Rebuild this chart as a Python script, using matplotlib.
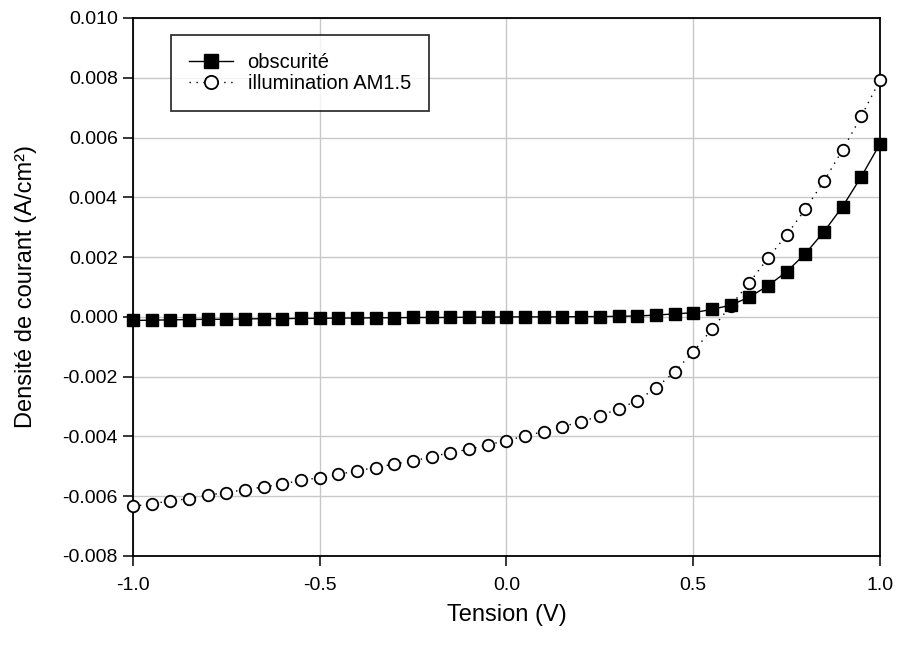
import matplotlib
matplotlib.use("Agg")
import matplotlib.pyplot as plt
import numpy as np

plt.rcParams['font.family'] = ['Liberation Sans', 'DejaVu Sans']

voltage = [-1.0, -0.95, -0.9, -0.85, -0.8, -0.75, -0.7, -0.65, -0.6, -0.55,
           -0.5, -0.45, -0.4, -0.35, -0.3, -0.25, -0.2, -0.15, -0.1, -0.05,
           0.0, 0.05, 0.1, 0.15, 0.2, 0.25, 0.3, 0.35, 0.4, 0.45,
           0.5, 0.55, 0.6, 0.65, 0.7, 0.75, 0.8, 0.85, 0.9, 0.95, 1.0]

dark = [-0.00012, -0.00011, -0.00010, -0.00009, -0.00008, -0.00008, -0.00007, -0.00006, -0.00006, -0.00005,
        -0.00005, -0.00004, -0.00004, -0.00003, -0.00003, -0.00002, -0.00002, -0.00002, -0.00001, -0.00001,
        0.00000, 0.00000, 0.00000, 0.00000, 0.00001, 0.00001, 0.00002, 0.00003, 0.00006, 0.00010,
        0.00014, 0.00025, 0.00039, 0.00066, 0.00104, 0.00151, 0.00211, 0.00285, 0.00369, 0.00469, 0.00579]

light = [-0.00634, -0.00625, -0.00616, -0.00608, -0.00596, -0.00588, -0.00578, -0.00569, -0.00559, -0.00547,
         -0.00538, -0.00527, -0.00515, -0.00504, -0.00492, -0.00482, -0.00468, -0.00454, -0.00443, -0.00428,
         -0.00414, -0.00398, -0.00384, -0.00367, -0.00351, -0.00331, -0.00308, -0.00280, -0.00238, -0.00184,
         -0.00117, -0.00041, 0.00037, 0.00114, 0.00196, 0.00274, 0.00360, 0.00454, 0.00559, 0.00671, 0.00792]

xticks = [-1.0, -0.5, 0.0, 0.5, 1.0]
xticklabels = ['-1.0', '-0.5', '0.0', '0.5', '1.0']
yticks = [-0.008, -0.006, -0.004, -0.002, 0.0, 0.002, 0.004, 0.006, 0.008, 0.010]
yticklabels = ['-0.008', '-0.006', '-0.004', '-0.002', '0.000', '0.002', '0.004', '0.006', '0.008', '0.010']

fig = plt.figure(figsize=(8.98, 6.49), dpi=100)
ax = fig.add_axes([0.1481, 0.1433, 0.8318, 0.829])

ax.plot(voltage, light, linestyle=(0, (1, 4)), color='black', linewidth=1,
        marker='o', markersize=8.3, markerfacecolor='white', markeredgecolor='black',
        markeredgewidth=1.3, label='illumination AM1.5', zorder=3, clip_on=False)
ax.plot(voltage, dark, linestyle='-', color='black', linewidth=1,
        marker='s', markersize=8.5, markerfacecolor='black', markeredgecolor='black',
        label='obscurité', zorder=4, clip_on=False)

ax.set_xlim(-1.0, 1.0)
ax.set_ylim(-0.008, 0.010)
ax.set_xticks(xticks)
ax.set_xticklabels(xticklabels)
ax.set_yticks(yticks)
ax.set_yticklabels(yticklabels)
ax.tick_params(axis='both', direction='out', length=7, width=1.1, labelsize=14, colors='black')
ax.tick_params(axis='x', pad=8)
ax.tick_params(axis='y', pad=4)
ax.grid(True, color='#c8c8c8', linewidth=1)
ax.set_axisbelow(True)
for s in ax.spines.values():
    s.set_linewidth(1.3)
    s.set_color('black')

ax.set_xlabel('Tension (V)', fontsize=17, labelpad=7)
ax.set_ylabel('Densité de courant (A/cm²)', fontsize=17, labelpad=18)

h, l = ax.get_legend_handles_labels()
leg = ax.legend([h[1], h[0]], [l[1], l[0]], loc='upper left',
                bbox_to_anchor=(38 / 747, 1 - 17 / 538),
                fontsize=14.5, frameon=True, fancybox=False, edgecolor='black',
                handlelength=2.2, borderpad=0.9, labelspacing=0.1, handletextpad=0.7,
                borderaxespad=0, markerscale=1.15)
leg.get_frame().set_linewidth(1.3)

fig.savefig('out.png', dpi=100)
